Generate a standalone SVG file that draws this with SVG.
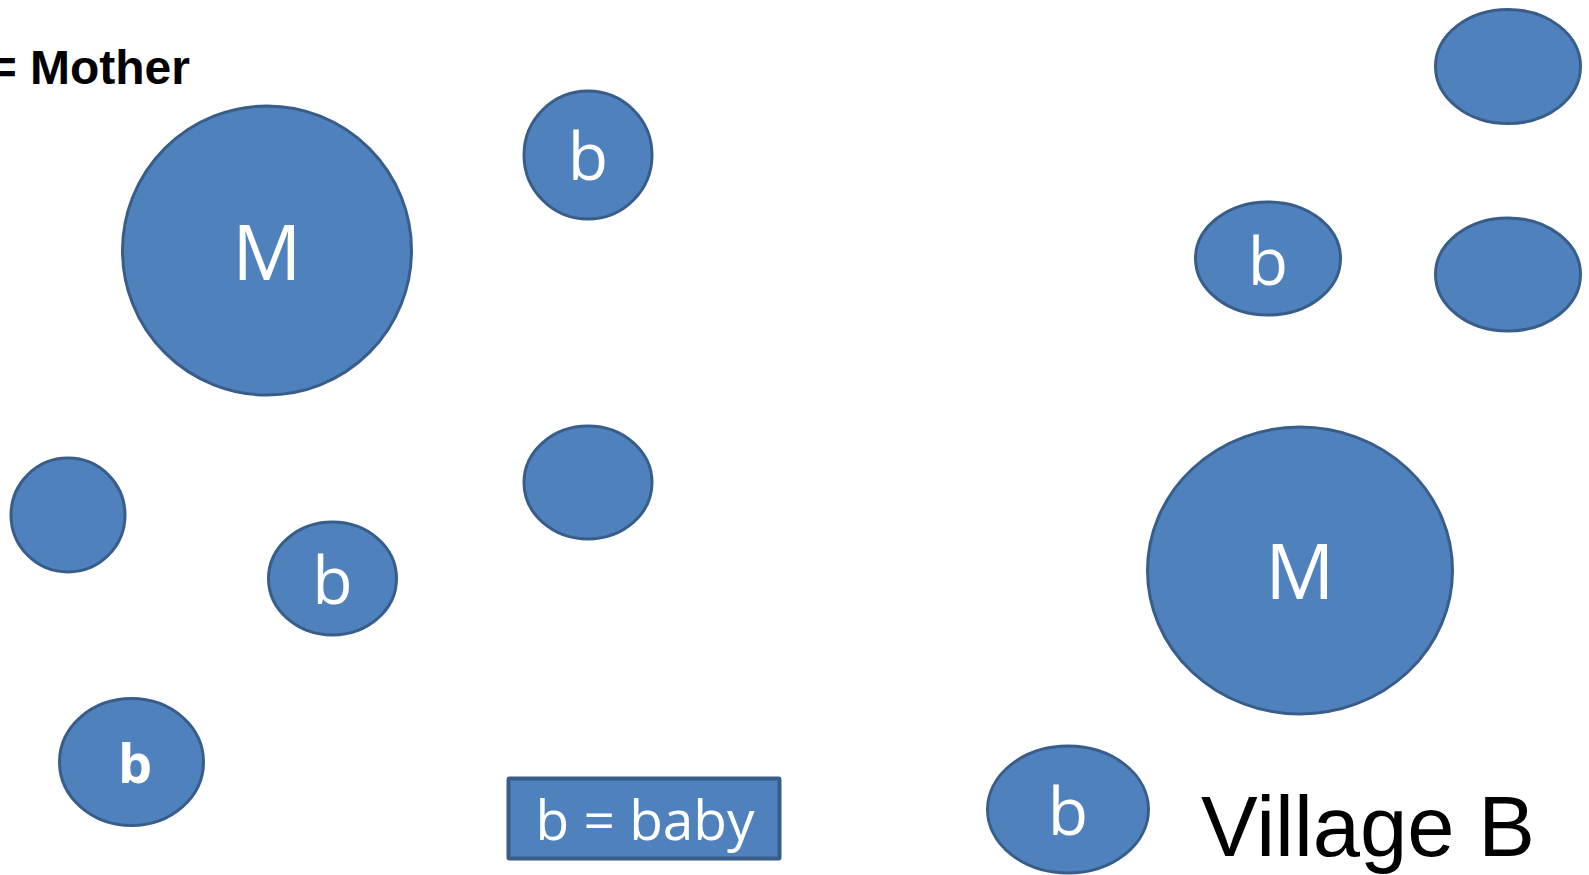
<svg xmlns="http://www.w3.org/2000/svg" width="1589" height="875" viewBox="0 0 1589 875">
  <style>
    .node { fill: #4F81BD; stroke: #385D8A; stroke-width: 3; }
    .lbl { fill: #FFFFFF; font-family: "Open Sans", "Noto Sans", sans-serif; text-anchor: middle; }
    .small { font-size: 66px; }
    .big { font-size: 77px; }
    .bold { font-size: 54px; font-weight: bold; }
    .caption { fill: #000000; font-family: "Liberation Sans", Arial, sans-serif; }
  </style>
  <rect width="1589" height="875" fill="#FFFFFF"/>

  <!-- heading key, partly cut by the left edge -->
  <text class="caption" x="190" y="84" font-size="48" font-weight="bold" text-anchor="end">= Mother</text>

  <!-- village A -->
  <g id="motherA">
    <ellipse class="node" cx="267" cy="250.5" rx="144.5" ry="144.5"/>
    <text class="lbl big" x="267" y="280">M</text>
  </g>
  <g id="babyA1">
    <ellipse class="node" cx="588" cy="155" rx="64" ry="64"/>
    <text class="lbl small" x="588" y="180">b</text>
  </g>
  <g id="personA1">
    <ellipse class="node" cx="588" cy="482.5" rx="64" ry="56.5"/>
  </g>
  <g id="personA2">
    <ellipse class="node" cx="68" cy="515" rx="57" ry="57"/>
  </g>
  <g id="babyA2">
    <ellipse class="node" cx="332.5" cy="578.5" rx="64" ry="56.5"/>
    <text class="lbl small" x="332.5" y="604">b</text>
  </g>
  <g id="babyA3">
    <ellipse class="node" cx="131.5" cy="762" rx="72" ry="63.5"/>
    <text class="lbl bold" x="135" y="783">b</text>
  </g>

  <!-- legend -->
  <g id="legend">
    <rect x="508.5" y="778.5" width="271" height="80" fill="#4F81BD" stroke="#385D8A" stroke-width="4" rx="1"/>
    <text class="lbl" x="645" y="840" font-size="55">b = baby</text>
  </g>

  <!-- village B -->
  <g id="personB1">
    <ellipse class="node" cx="1508" cy="66.5" rx="72.5" ry="57"/>
  </g>
  <g id="babyB1">
    <ellipse class="node" cx="1268" cy="258.5" rx="72.5" ry="56.5"/>
    <text class="lbl small" x="1268" y="285">b</text>
  </g>
  <g id="personB2">
    <ellipse class="node" cx="1508" cy="274.5" rx="72.5" ry="56.5"/>
  </g>
  <g id="motherB">
    <ellipse class="node" cx="1300" cy="570.5" rx="152.5" ry="143.5"/>
    <text class="lbl big" x="1300" y="599">M</text>
  </g>
  <g id="babyB2">
    <ellipse class="node" cx="1068" cy="809.5" rx="80.5" ry="63.5"/>
    <text class="lbl small" x="1068" y="835">b</text>
  </g>
  <text class="caption" x="1201" y="856" font-size="85">Village B</text>

  <!-- no connectors between the circles -->
  <g id="connectors"/>
</svg>
